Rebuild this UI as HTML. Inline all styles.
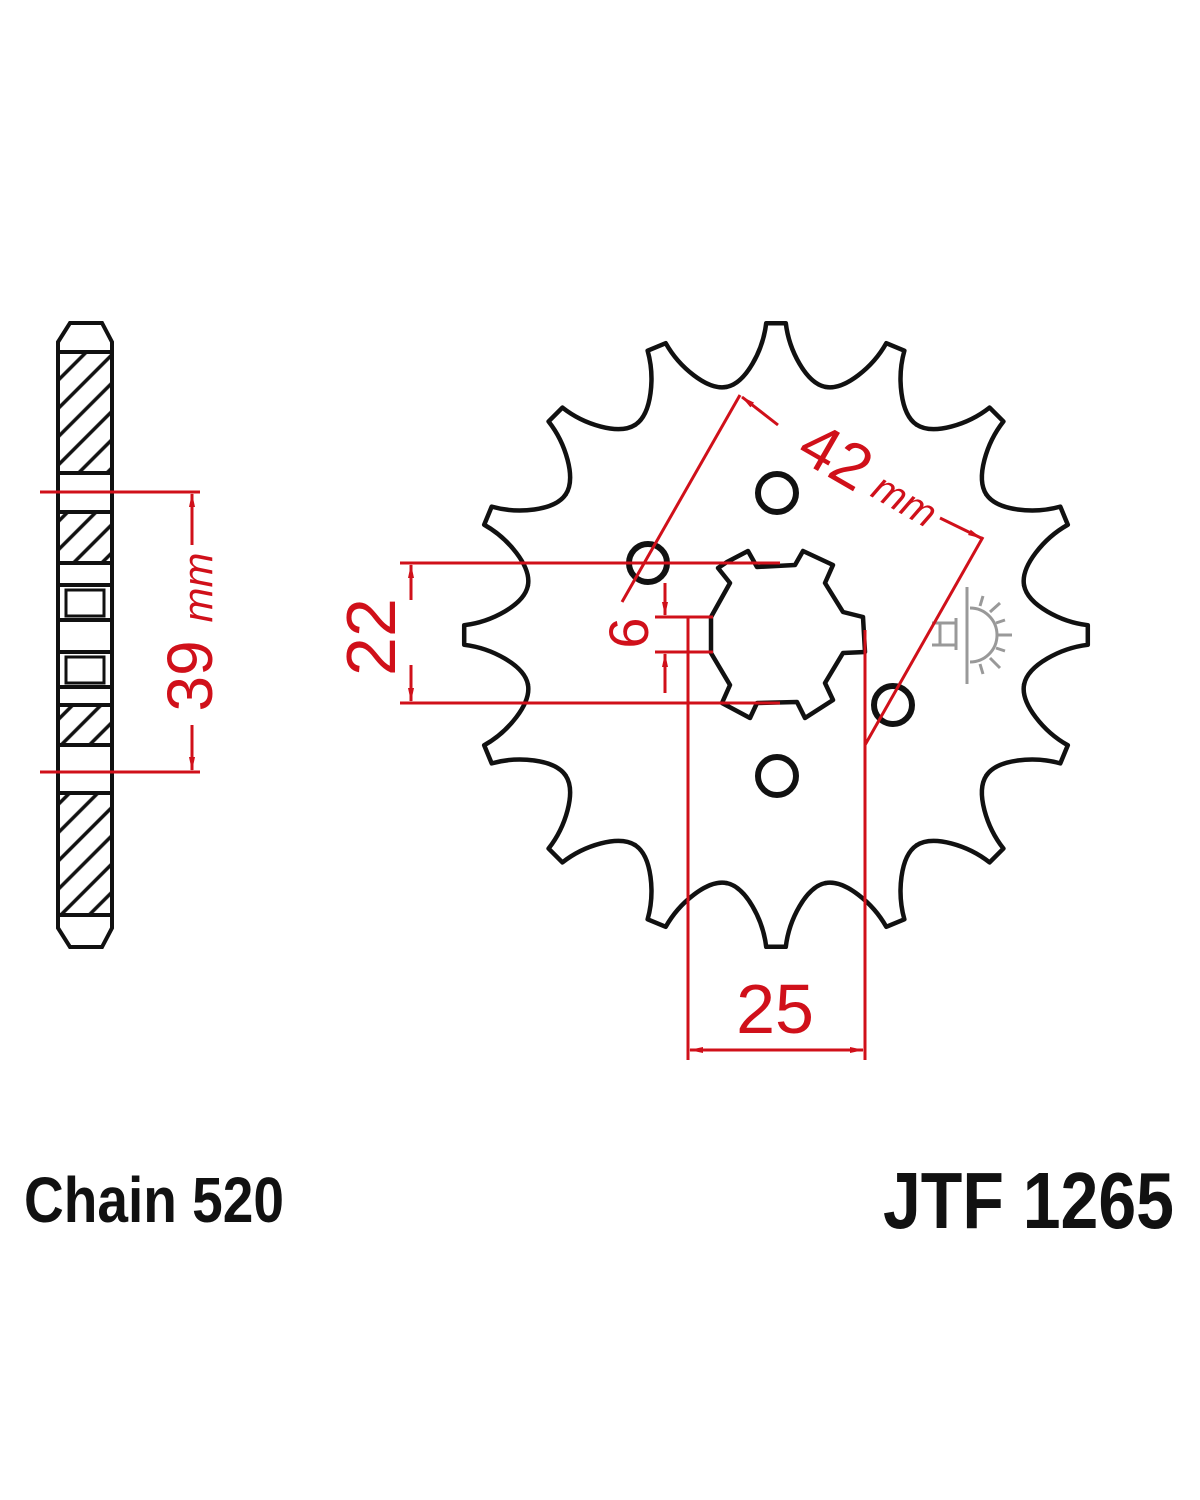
<!DOCTYPE html>
<html><head><meta charset="utf-8"><style>
html,body{margin:0;padding:0;background:#fff;}
svg{display:block;}
</style></head><body>
<svg width="1200" height="1500" viewBox="0 0 1200 1500" xmlns="http://www.w3.org/2000/svg">
<defs>
<pattern id="h" patternUnits="userSpaceOnUse" width="20" height="20" patternTransform="rotate(-45 0 0)">
<rect width="20" height="20" fill="#fff"/>
<line x1="0" y1="10" x2="20" y2="10" stroke="#111" stroke-width="3.5"/>
</pattern>
<marker id="a" markerWidth="14" markerHeight="8" refX="13" refY="4" orient="auto" markerUnits="userSpaceOnUse">
<path d="M0,1 L14,4 L0,7 z" fill="#d0101a"/>
</marker>
<path id="tooth" d="M-49.4,-248.1 C-29.8,-252 -13,-285 -9.8,-311.8 L9.8,-311.8 C13,-285 29.8,-252 49.4,-248.1" fill="none" stroke="#111" stroke-width="4.5" stroke-linejoin="round" stroke-linecap="round"/>
</defs>
<rect width="1200" height="1500" fill="#fff"/>

<!-- side view -->
<g stroke="#111" stroke-width="4" fill="#fff">
<path d="M58,352 L58,342 L70,323 L102,323 L112,342 L112,352 Z"/>
<path d="M58,915 L58,928 L70,947 L102,947 L112,928 L112,915 Z"/>
<rect x="58" y="352" width="54" height="121" fill="url(#h)"/>
<rect x="58" y="473" width="54" height="39"/>
<rect x="58" y="512" width="54" height="51" fill="url(#h)"/>
<rect x="58" y="563" width="54" height="22"/>
<rect x="58" y="585" width="54" height="35"/>
<rect x="66" y="590" width="38" height="26" stroke-width="3"/>
<rect x="58" y="620" width="54" height="32"/>
<rect x="58" y="652" width="54" height="35"/>
<rect x="66" y="657" width="38" height="26" stroke-width="3"/>
<rect x="58" y="687" width="54" height="18"/>
<rect x="58" y="705" width="54" height="40" fill="url(#h)"/>
<rect x="58" y="745" width="54" height="48"/>
<rect x="58" y="793" width="54" height="122" fill="url(#h)"/>
</g>
<g stroke="#d0101a" stroke-width="3" fill="none">
<line x1="40" y1="492" x2="200" y2="492"/>
<line x1="40" y1="772" x2="200" y2="772"/>
<line x1="192" y1="545" x2="192" y2="494" marker-end="url(#a)"/>
<line x1="192" y1="725" x2="192" y2="770" marker-end="url(#a)"/>
</g>
<text transform="translate(212,632) rotate(-90)" text-anchor="middle" font-family="Liberation Sans, sans-serif" font-size="64" fill="#d0101a">39 <tspan font-size="42" font-style="italic">mm</tspan></text>

<!-- sprocket -->
<g transform="translate(776,635)">
<use href="#tooth" transform="rotate(0)"/>
<use href="#tooth" transform="rotate(22.5)"/>
<use href="#tooth" transform="rotate(45)"/>
<use href="#tooth" transform="rotate(67.5)"/>
<use href="#tooth" transform="rotate(90)"/>
<use href="#tooth" transform="rotate(112.5)"/>
<use href="#tooth" transform="rotate(135)"/>
<use href="#tooth" transform="rotate(157.5)"/>
<use href="#tooth" transform="rotate(180)"/>
<use href="#tooth" transform="rotate(202.5)"/>
<use href="#tooth" transform="rotate(225)"/>
<use href="#tooth" transform="rotate(247.5)"/>
<use href="#tooth" transform="rotate(270)"/>
<use href="#tooth" transform="rotate(292.5)"/>
<use href="#tooth" transform="rotate(315)"/>
<use href="#tooth" transform="rotate(337.5)"/>
</g>
<path d="M718,568 L727,562 L748,551 L757,567 L795,565 L803,551 L833,565 L825,583 L843,612 L863,617 L865,652 L843,653 L825,683 L833,700 L805,718 L797,702 L757,703 L750,718 L722,703 L730,685 L711,653 L711,617 L730,583 Z" fill="none" stroke="#111" stroke-width="4.5" stroke-linejoin="round"/>
<g fill="none" stroke="#111" stroke-width="6">
<circle cx="648" cy="563" r="19"/>
<circle cx="777" cy="493" r="19"/>
<circle cx="893" cy="705" r="19"/>
<circle cx="777" cy="776" r="19"/>
</g>

<!-- lamp icon -->
<g stroke="#999" stroke-width="3" fill="none">
<line x1="967" y1="587" x2="967" y2="684"/>
<path d="M970,608 A27,27 0 0 1 970,662"/>
<line x1="980" y1="606" x2="983" y2="596"/><line x1="990" y1="612" x2="1000" y2="603"/>
<line x1="996" y1="623" x2="1005" y2="620"/><line x1="997" y1="635" x2="1012" y2="635"/>
<line x1="996" y1="648" x2="1005" y2="651"/><line x1="990" y1="658" x2="1000" y2="668"/>
<line x1="980" y1="664" x2="983" y2="674"/>
<path d="M932,623 L956,623 M940,623 L940,645 M932,645 L956,645 M956,618 L956,650"/>
</g>

<!-- red dimensions -->
<g stroke="#d0101a" stroke-width="3" fill="none">
<line x1="400" y1="563" x2="780" y2="563"/>
<line x1="400" y1="703" x2="780" y2="703"/>
<line x1="411" y1="600" x2="411" y2="565" marker-end="url(#a)"/>
<line x1="411" y1="665" x2="411" y2="701" marker-end="url(#a)"/>
<line x1="655" y1="617" x2="713" y2="617"/>
<line x1="655" y1="652" x2="713" y2="652"/>
<line x1="665" y1="583" x2="665" y2="615" marker-end="url(#a)"/>
<line x1="665" y1="693" x2="665" y2="654" marker-end="url(#a)"/>
<line x1="688" y1="617" x2="688" y2="1060"/>
<line x1="865" y1="630" x2="865" y2="1060"/>
<line x1="740" y1="1050" x2="690" y2="1050" marker-end="url(#a)"/>
<line x1="810" y1="1050" x2="863" y2="1050" marker-end="url(#a)"/>
<line x1="690" y1="1050" x2="863" y2="1050"/>
<line x1="740" y1="395" x2="622" y2="602"/>
<line x1="983" y1="537" x2="865" y2="745"/>
<line x1="778" y1="425" x2="742" y2="397" marker-end="url(#a)"/>
<line x1="940" y1="518" x2="981" y2="538" marker-end="url(#a)"/>
</g>
<g font-family="Liberation Sans, sans-serif" fill="#d0101a">
<text transform="translate(395,637) rotate(-90)" text-anchor="middle" font-size="70">22</text>
<text transform="translate(648,633) rotate(-90)" text-anchor="middle" font-size="56">6</text>
<text x="775" y="1033" text-anchor="middle" font-size="70">25</text>
<text transform="translate(825,475) rotate(30)" text-anchor="middle" font-size="64">42</text>
<text transform="translate(898,512) rotate(30)" text-anchor="middle" font-size="40" font-style="italic">mm</text>
</g>

<g font-family="Liberation Sans, sans-serif" font-weight="bold" fill="#111">
<text transform="translate(24,1222) scale(0.86,1)" font-size="64">Chain 520</text>
<text transform="translate(1174,1228) scale(0.85,1)" text-anchor="end" font-size="80">JTF 1265</text>
</g>
</svg>
</body></html>
